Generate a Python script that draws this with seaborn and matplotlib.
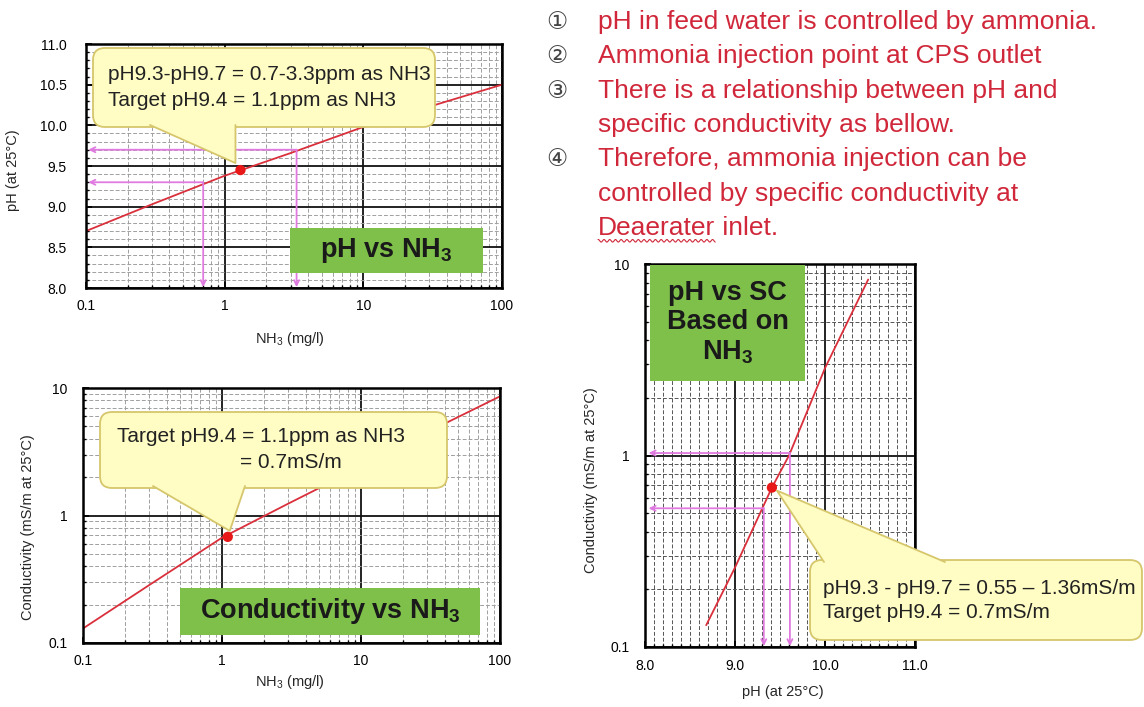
import numpy as np
import pandas as pd
import matplotlib
matplotlib.use('Agg')
import matplotlib.pyplot as plt
import seaborn as sns
from matplotlib.ticker import MultipleLocator, LogLocator, NullFormatter, FuncFormatter
from matplotlib.patches import FancyBboxPatch, Polygon, Rectangle

# --- data ---
# pH vs NH3
nh3_a = [0.1, 0.3, 1, 3, 10, 30, 100]
ph_a = [8.70, 9.03, 9.38, 9.66, 9.98, 10.23, 10.50]
# conductivity vs NH3
nh3_b = [0.1, 0.3, 1, 3, 10, 30, 100]
sc_b = [0.13, 0.285, 0.67, 1.24, 2.4, 4.5, 8.6]
# conductivity vs pH
ph_c = [8.68, 9.0, 9.41, 9.6, 10.0, 10.48]
sc_c = [0.13, 0.26, 0.68, 1.0, 2.86, 8.3]

# target points
target_a = (1.3, 9.45)
target_b = (1.1, 0.68)
target_c = (9.41, 0.68)

# pink guide lines
range_nh3 = [0.7, 3.3]
range_ph = [9.3, 9.7]
range_ph_c = [9.32, 9.61]
range_sc_c = [0.53, 1.03]

note_marks = ['①', '②', '③', '', '④', '', '']
note_lines = ['pH in feed water is controlled by ammonia.',
              'Ammonia injection point at CPS outlet',
              'There is a relationship between pH and',
              'specific conductivity as bellow.',
              'Therefore, ammonia injection can be',
              'controlled by specific conductivity at',
              'Deaerater inlet.']

callout_a = ['pH9.3-pH9.7 = 0.7-3.3ppm as NH3', 'Target pH9.4 = 1.1ppm as NH3']
callout_b = ['Target pH9.4 = 1.1ppm as NH3', '= 0.7mS/m']
callout_c = ['pH9.3 - pH9.7 = 0.55 \u2013 1.36mS/m', 'Target pH9.4 = 0.7mS/m']

sns.set_theme(style='white')
plt.rcParams['font.family'] = ['Liberation Sans', 'DejaVu Sans']
plt.rcParams['mathtext.fontset'] = 'custom'
plt.rcParams['mathtext.rm'] = 'Liberation Sans'
plt.rcParams['mathtext.bf'] = 'Liberation Sans:bold'
plt.rcParams['mathtext.default'] = 'regular'

W, H = 1144, 707
fig = plt.figure(figsize=(W / 100, H / 100), dpi=100)
fig.patch.set_facecolor('white')


def px_axes(l, t, r, b):
    return fig.add_axes([l / W, 1 - b / H, (r - l) / W, (b - t) / H])


ax1 = px_axes(86, 44, 502, 288)
ax2 = px_axes(83, 388, 500, 643)
ax3 = px_axes(645, 264, 915, 647)

red = '#D9303C'
dot = '#E81818'
pink = '#E07AE0'
gfmt = FuncFormatter(lambda v, p: '%g' % v)


def style(ax, minor_col='#a0a0a0'):
    ax.set_facecolor('white')
    ax.set_axisbelow(True)
    ax.grid(which='major', color='#111111', lw=1.3, ls='-')
    ax.grid(which='minor', color=minor_col, lw=0.7, ls=(0, (4, 2)))
    for s in ax.spines.values():
        s.set_visible(True)
        s.set_color('black')
        s.set_linewidth(1.8)
    ax.tick_params(which='both', direction='in', colors='black', labelsize=10,
                   left=True, bottom=True, length=4)
    ax.tick_params(which='minor', length=2.5)


# ---- chart 1: pH vs NH3 ----
df_a = pd.DataFrame({'NH3': nh3_a, 'pH': ph_a})
sns.lineplot(data=df_a, x='NH3', y='pH', ax=ax1, color=red, lw=1.3, estimator=None, sort=False)
ax1.set_xscale('log')
ax1.set_xlim(0.1, 100)
ax1.set_ylim(8.0, 11.0)
ax1.yaxis.set_major_locator(MultipleLocator(0.5))
ax1.yaxis.set_minor_locator(MultipleLocator(0.1))
ax1.yaxis.set_major_formatter(FuncFormatter(lambda v, p: '%.1f' % v))
ax1.xaxis.set_major_formatter(gfmt)
ax1.xaxis.set_minor_formatter(NullFormatter())
style(ax1)
ax1.tick_params(axis='y', pad=14)
ax1.tick_params(axis='x', pad=8)
ax1.set_xlabel('NH$_3$ (mg/l)', fontsize=10.5)
ax1.set_ylabel('pH (at 25°C)', fontsize=10.5)
ax1.xaxis.set_label_coords(0.49, -0.172)
ax1.yaxis.set_label_coords(-0.159, 0.484)

# ---- chart 2: conductivity vs NH3 ----
df_b = pd.DataFrame({'NH3': nh3_b, 'SC': sc_b})
sns.lineplot(data=df_b, x='NH3', y='SC', ax=ax2, color=red, lw=1.3, estimator=None, sort=False)
ax2.set_xscale('log')
ax2.set_yscale('log')
ax2.set_xlim(0.1, 100)
ax2.set_ylim(0.1, 10)
for axis in (ax2.xaxis, ax2.yaxis):
    axis.set_major_formatter(gfmt)
    axis.set_minor_formatter(NullFormatter())
    axis.set_minor_locator(LogLocator(base=10, subs=np.arange(2, 10)))
style(ax2)
ax2.tick_params(axis='y', pad=11)
ax2.tick_params(axis='x', pad=8)
ax2.set_xlabel('NH$_3$ (mg/l)', fontsize=10.5)
ax2.set_ylabel('Conductivity (mS/m at 25°C)', fontsize=10.5)
ax2.xaxis.set_label_coords(0.496, -0.118)
ax2.yaxis.set_label_coords(-0.115, 0.455)

# ---- chart 3: conductivity vs pH ----
df_c = pd.DataFrame({'pH': ph_c, 'SC': sc_c})
sns.lineplot(data=df_c, x='pH', y='SC', ax=ax3, color=red, lw=1.3, estimator=None, sort=False)
ax3.set_yscale('log')
ax3.set_xlim(8.0, 11.0)
ax3.set_ylim(0.1, 10)
ax3.xaxis.set_major_locator(MultipleLocator(1.0))
ax3.xaxis.set_minor_locator(MultipleLocator(0.1))
ax3.xaxis.set_major_formatter(FuncFormatter(lambda v, p: '%.1f' % v))
ax3.yaxis.set_major_formatter(gfmt)
ax3.yaxis.set_minor_formatter(NullFormatter())
ax3.yaxis.set_minor_locator(LogLocator(base=10, subs=np.arange(2, 10)))
style(ax3, minor_col='#555555')
ax3.tick_params(axis='y', pad=11)
ax3.tick_params(axis='x', pad=9)
ax3.set_xlabel('pH (at 25°C)', fontsize=10.5)
ax3.set_ylabel('Conductivity (mS/m at 25°C)', fontsize=10.5)
ax3.xaxis.set_label_coords(0.51, -0.1)
ax3.yaxis.set_label_coords(-0.174, 0.436)


# pink guide arrows
def guide(ax, x0, y0, xleft, ybot):
    ap = dict(arrowstyle='->', color=pink, lw=1.3, shrinkA=0, shrinkB=0, mutation_scale=9)
    ax.annotate('', xy=(xleft, y0), xytext=(x0, y0), arrowprops=ap, zorder=3)
    ax.annotate('', xy=(x0, ybot), xytext=(x0, y0), arrowprops=ap, zorder=3)


for xv, yv in zip(range_nh3, range_ph):
    guide(ax1, xv, yv, 0.104, 8.01)
for xv, yv in zip(range_ph_c, range_sc_c):
    guide(ax3, xv, yv, 8.04, 0.101)

# target dots
for ax, pt in ((ax1, target_a), (ax2, target_b), (ax3, target_c)):
    sns.scatterplot(x=[pt[0]], y=[pt[1]], ax=ax, color=dot, s=55, edgecolor='none', zorder=6, legend=False)

# ---- overlay in pixel coordinates for boxes and text ----
ov = fig.add_axes([0, 0, 1, 1], facecolor='none')
ov.set_xlim(0, W)
ov.set_ylim(H, 0)
ov.axis('off')
ov.set_zorder(10)


def to_px(ax, pt):
    x, y = ax.transData.transform(pt)
    return x, H - y


fill = '#FFFDC4'
edge = '#D6C66C'


def callout(box, b0, tip, b1, lines, xs, ys):
    x0, y0, x1, y1 = box
    ov.add_patch(FancyBboxPatch((x0, y0), x1 - x0, y1 - y0,
                                boxstyle='round,pad=0,rounding_size=12',
                                fc=fill, ec=edge, lw=1.3, zorder=5))
    ov.add_patch(Polygon([b0, tip, b1], closed=True, fc=fill, ec='none', zorder=6))
    ov.plot([b0[0], tip[0], b1[0]], [b0[1], tip[1], b1[1]], color=edge, lw=1.3, zorder=7)
    for t, xx, yy in zip(lines, xs, ys):
        ov.text(xx, yy, t, fontsize=15, color='#222222', va='center', ha='left', zorder=8)


dx, dy = to_px(ax1, target_a)
callout((93, 48, 435, 127), (150, 125), (dx - 5, dy - 7), (dx - 5, 125),
        callout_a, [108, 108], [75, 100])
dx, dy = to_px(ax2, target_b)
callout((100, 412, 447, 488), (153, 486), (dx + 2, dy - 6), (245, 486),
        callout_b, [117, 240], [437, 462])
dx, dy = to_px(ax3, target_c)
callout((810, 560, 1142, 640), (824, 562), (dx + 5, dy + 3), (945, 562),
        callout_c, [823, 823], [588, 613])

# green labels
green = '#7EC04A'


def green_label(l, t, r, b, text):
    ov.add_patch(Rectangle((l, t), r - l, b - t, fc=green, ec='none', zorder=4))
    ov.text((l + r) / 2, (t + b) / 2, text, fontsize=19.5, fontweight='bold', color='#1a1a1a',
            ha='center', va='center', linespacing=1.15, zorder=5)


green_label(290, 228, 483, 273, r'pH vs NH$_\mathbf{3}$')
green_label(180, 588, 480, 635, r'Conductivity vs NH$_\mathbf{3}$')
green_label(650, 265, 805, 381, 'pH vs SC\nBased on\nNH$_\\mathbf{3}$')

# numbered notes
note_red = '#D0283A'
y_first, step = 22, 34.3
for i, (m, t) in enumerate(zip(note_marks, note_lines)):
    y = y_first + i * step
    if m:
        ov.text(557, y, m, fontsize=17, color='#444444', ha='center', va='center',
                family=['DejaVu Sans'])
    if t.startswith('Deaerater'):
        deaer = ov.text(598, y, 'Deaerater', fontsize=19, color=note_red, va='center', ha='left')
        fig.canvas.draw()
        bb = deaer.get_window_extent()
        ov.text(bb.x1, y, ' inlet.', fontsize=19, color=note_red, va='center', ha='left')
        xs = np.linspace(bb.x0, bb.x1, 200)
        ov.plot(xs, H - bb.y0 + 1 + 1.3 * np.sin(xs * 1.1), color=note_red, lw=0.8)
    else:
        ov.text(598, y, t, fontsize=19, color=note_red, va='center', ha='left')

fig.savefig('out.png', dpi=100, facecolor='white')
